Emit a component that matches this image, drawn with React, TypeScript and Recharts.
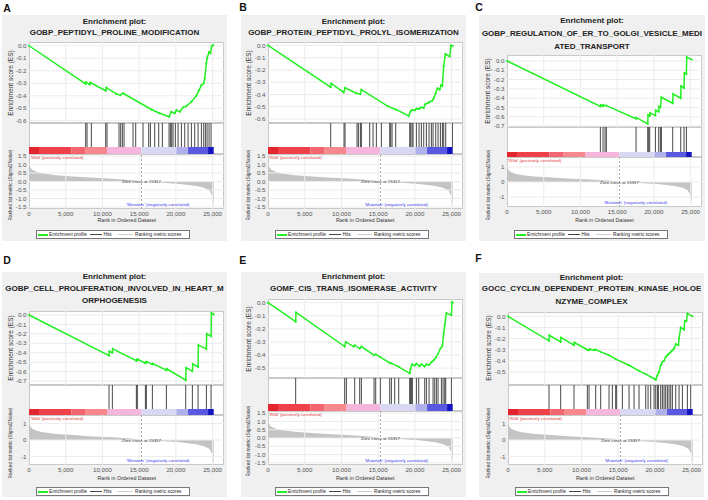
import React from "react";
import { LineChart, Line, AreaChart, Area, XAxis, YAxis, ReferenceLine, ReferenceArea, ReferenceDot } from "recharts";

const FONT = "'Liberation Sans', Arial, Helvetica, sans-serif";
const X_MAX = 26550;
const PLOT_W = 195;
const YW = 22;
const XH = 12;
const ZERO_CROSS = 15317;
const GREEN = "#22f022";

const xTicks = [0, 5000, 10000, 15000, 20000, 25000];

// ranked list metric (shared by all six plots)
const metricRanks = [0, 150, 400, 1000, 1900, 3700, 6000, 8700, 11400, 14200, 15317, 17800, 20500, 22800, 23900, 24600, 24950, 25100, 25150];
const metricValues = [1.1, 0.85, 0.7, 0.57, 0.47, 0.37, 0.3, 0.22, 0.16, 0.08, 0, -0.06, -0.14, -0.26, -0.39, -0.55, -0.85, -1.3, -1.6];

// heat bar under the hits
const barEdges = [0, 1362, 5766, 7718, 10624, 15300, 20067, 21656, 24380, 25150];
const barColors = ["#e3262e", "#ee4149", "#f36670", "#f7898c", "#f4b6da", "#d8d8f2", "#b0b0ec", "#5858e0", "#1414c0"];

type Pt = [number, number];

const esA: Pt[] = [[0, 0], [7718, -0.305], [7763, -0.29], [8263, -0.31], [8354, -0.295], [10442, -0.36], [10533, -0.335], [11895, -0.385], [12440, -0.395], [12803, -0.38], [16662, -0.51], [17797, -0.54], [19068, -0.568], [19386, -0.528], [19840, -0.541], [20067, -0.515], [20521, -0.528], [20975, -0.493], [21429, -0.483], [22110, -0.448], [22791, -0.4], [23154, -0.355], [23472, -0.315], [23790, -0.3], [23926, -0.26], [24153, -0.14], [24244, -0.1], [24516, -0.05], [24698, -0.06], [24879, 0.0], [25100, 0.005]];
const hitsA = [7718, 7900, 8490, 10442, 10624, 12258, 12485, 12712, 12939, 14165, 14528, 15527, 16299, 16526, 17116, 17661, 18160, 19068, 19250, 19431, 19613, 19931, 20294, 20748, 21202, 21656, 22110, 22564, 23018, 23472, 23790, 24017, 24244, 24516, 24788];

const esB: Pt[] = [[0, 0], [8535, -0.34], [8626, -0.31], [10306, -0.383], [10487, -0.345], [12031, -0.39], [12576, -0.397], [12712, -0.36], [16344, -0.497], [17479, -0.524], [19159, -0.575], [19386, -0.54], [19613, -0.525], [19976, -0.53], [20203, -0.515], [20566, -0.52], [20793, -0.505], [21202, -0.51], [21383, -0.48], [21792, -0.47], [22019, -0.46], [22382, -0.45], [22564, -0.43], [22836, -0.39], [23063, -0.35], [23381, -0.36], [23563, -0.325], [23744, -0.33], [23926, -0.17], [24153, -0.07], [24743, -0.09], [24925, 0.0], [25150, -0.005]];
const hitsB = [8535, 10351, 10487, 12122, 12303, 12576, 12712, 13847, 14301, 14755, 15436, 16571, 16707, 16889, 17388, 19295, 19431, 19613, 19749, 20203, 20566, 20884, 21202, 21565, 21928, 22246, 22473, 22836, 23154, 23472, 23744, 23926, 24198, 25106];

const esC: Pt[] = [[0, 0], [12712, -0.49], [12757, -0.475], [13075, -0.485], [13120, -0.475], [13529, -0.48], [17570, -0.62], [17615, -0.61], [19159, -0.675], [19204, -0.58], [19431, -0.59], [19477, -0.56], [20203, -0.585], [20248, -0.53], [20657, -0.545], [20702, -0.49], [20884, -0.5], [21020, -0.39], [22564, -0.455], [22610, -0.355], [23653, -0.4], [23699, -0.27], [24107, -0.29], [24153, -0.13], [24425, -0.14], [24471, 0.04], [25150, 0.015]];
const hitsC = [12712, 13075, 13348, 13529, 17570, 19159, 19295, 19431, 20203, 20657, 20884, 21020, 22564, 23653, 24107, 24425];

const esD: Pt[] = [[0, 0], [10896, -0.43], [10941, -0.385], [11350, -0.4], [11395, -0.36], [14619, -0.485], [14664, -0.475], [14755, -0.48], [14800, -0.47], [15845, -0.51], [15890, -0.5], [15981, -0.505], [16026, -0.495], [16798, -0.525], [16843, -0.515], [18705, -0.585], [18750, -0.57], [21338, -0.69], [21383, -0.56], [22246, -0.595], [22291, -0.52], [23018, -0.55], [23063, -0.32], [24153, -0.36], [24198, -0.2], [24788, -0.225], [24834, 0.02], [25150, 0.005]];
const hitsD = [10896, 11350, 14619, 14755, 15845, 15981, 16798, 18705, 21338, 22246, 23018, 24153, 24788];

const esE: Pt[] = [[0, 0], [3768, -0.145], [3814, -0.075], [10442, -0.335], [10578, -0.3], [11668, -0.335], [11804, -0.325], [12485, -0.35], [12712, -0.335], [14437, -0.4], [14664, -0.395], [15300, -0.415], [16571, -0.46], [16798, -0.462], [17797, -0.49], [19295, -0.54], [19386, -0.51], [19613, -0.47], [19976, -0.48], [20203, -0.465], [20657, -0.485], [20884, -0.47], [21338, -0.487], [21565, -0.47], [21928, -0.475], [22246, -0.455], [22564, -0.44], [22836, -0.42], [23154, -0.39], [23472, -0.35], [23744, -0.33], [23926, -0.23], [24062, -0.17], [24289, -0.08], [24970, -0.095], [25061, 0.005], [25150, 0.0]];
const hitsE = [3768, 10442, 10669, 11804, 12485, 12712, 14437, 14664, 15300, 16571, 16798, 17252, 17797, 19295, 19386, 19522, 19658, 20203, 20521, 21338, 21565, 21928, 22473, 22700, 22927, 23154, 23608, 23835, 24062, 24198, 24970];

const esF: Pt[] = [[0, 0], [5584, -0.22], [5630, -0.17], [7173, -0.23], [7219, -0.19], [8989, -0.26], [9035, -0.235], [10805, -0.3], [11032, -0.305], [11123, -0.295], [11713, -0.305], [11849, -0.298], [12621, -0.32], [13756, -0.35], [14664, -0.385], [16480, -0.44], [17842, -0.49], [18750, -0.52], [19431, -0.545], [19885, -0.56], [20112, -0.57], [20339, -0.53], [20566, -0.5], [20793, -0.44], [21020, -0.41], [21247, -0.4], [21474, -0.365], [21701, -0.35], [21928, -0.335], [22155, -0.32], [22382, -0.305], [22610, -0.29], [22836, -0.25], [23200, -0.26], [23290, -0.2], [23517, -0.1], [23971, -0.12], [24062, -0.04], [24289, -0.045], [24425, 0.024], [25106, 0.0]];
const hitsF = [5584, 7173, 8989, 10805, 11032, 11940, 12621, 13756, 14210, 14664, 14800, 15572, 16480, 17161, 17842, 18750, 19068, 19431, 19885, 20112, 20339, 20475, 20793, 21020, 21247, 21474, 21701, 21928, 22155, 22382, 22836, 23290, 23744, 24425, 24879];

const esTicks5 = [0, -0.1, -0.2, -0.3, -0.4, -0.5];
const esTicks6 = [0, -0.1, -0.2, -0.3, -0.4, -0.5, -0.6];
const esTicks7 = [0, -0.1, -0.2, -0.3, -0.4, -0.5, -0.6, -0.7];
const rankTicksHalf = [1.5, 1, 0.5, 0, -0.5, -1, -1.5];
const rankTicksInt = [1, 0, -1];

interface Spec {
  letter: string; lx: number; ly: number;
  bx: number; by: number; bw: number; bh: number;
  px: number;
  title: string[]; ty: number[];
  esTop: number; esBot: number; esDom: [number, number]; esTicks: number[];
  cbTop: number; cbBot: number;
  rTop: number; rBot: number; rDom: [number, number]; rTicks: number[]; rDec: number;
  xly: number; legY: number;
  es: Pt[]; hits: number[];
}

const panels: Spec[] = [
  { letter: "A", lx: 3.3, ly: 8.3, bx: 2, by: 15, bw: 225, bh: 226, px: 29.3,
    title: ["Enrichment plot:", "GOBP_PEPTIDYL_PROLINE_MODIFICATION"], ty: [21.7, 33],
    esTop: 42, esBot: 123, esDom: [-0.618, 0.03], esTicks: esTicks6,
    cbTop: 147, cbBot: 154, rTop: 154, rBot: 209, rDom: [-1.62, 1.62], rTicks: rankTicksHalf, rDec: 1,
    xly: 220, legY: 230, es: esA, hits: hitsA },
  { letter: "B", lx: 239.3, ly: 7.3, bx: 241, by: 15, bw: 225, bh: 226, px: 267.7,
    title: ["Enrichment plot:", "GOBP_PROTEIN_PEPTIDYL_PROLYL_ISOMERIZATION"], ty: [21.7, 33],
    esTop: 42.3, esBot: 123, esDom: [-0.63, 0.028], esTicks: esTicks6,
    cbTop: 147, cbBot: 154, rTop: 154, rBot: 209, rDom: [-1.62, 1.62], rTicks: rankTicksHalf, rDec: 1,
    xly: 220, legY: 230, es: esB, hits: hitsB },
  { letter: "C", lx: 475.3, ly: 7, bx: 479, by: 15, bw: 226, bh: 226, px: 507,
    title: ["Enrichment plot:", "GOBP_REGULATION_OF_ER_TO_GOLGI_VESICLE_MEDI", "ATED_TRANSPORT"], ty: [21, 34, 46.7],
    esTop: 55, esBot: 127, esDom: [-0.71, 0.064], esTicks: esTicks7,
    cbTop: 152, cbBot: 157, rTop: 157, rBot: 207, rDom: [-1.67, 1.67], rTicks: rankTicksInt, rDec: 0,
    xly: 220, legY: 230, es: esC, hits: hitsC },
  { letter: "D", lx: 3.3, ly: 260, bx: 2, by: 272, bw: 225, bh: 225, px: 29.3,
    title: ["Enrichment plot:", "GOBP_CELL_PROLIFERATION_INVOLVED_IN_HEART_M", "ORPHOGENESIS"], ty: [277, 289.3, 301],
    esTop: 311, esBot: 385, esDom: [-0.742, 0.042], esTicks: esTicks7,
    cbTop: 409, cbBot: 415, rTop: 415, rBot: 465, rDom: [-1.52, 1.52], rTicks: rankTicksInt, rDec: 0,
    xly: 478, legY: 487, es: esD, hits: hitsD },
  { letter: "E", lx: 239.3, ly: 260, bx: 241, by: 272, bw: 225, bh: 225, px: 267.7,
    title: ["Enrichment plot:", "GOMF_CIS_TRANS_ISOMERASE_ACTIVITY"], ty: [277, 289.3],
    esTop: 299, esBot: 378, esDom: [-0.575, 0.028], esTicks: esTicks5,
    cbTop: 404, cbBot: 411, rTop: 411, rBot: 465, rDom: [-1.63, 1.63], rTicks: rankTicksHalf, rDec: 1,
    xly: 478, legY: 487, es: esE, hits: hitsE },
  { letter: "F", lx: 475.3, ly: 258.3, bx: 479, by: 273, bw: 225, bh: 224, px: 507.7,
    title: ["Enrichment plot:", "GOCC_CYCLIN_DEPENDENT_PROTEIN_KINASE_HOLOE", "NZYME_COMPLEX"], ty: [277.7, 289.3, 301.7],
    esTop: 311.7, esBot: 385, esDom: [-0.62, 0.039], esTicks: esTicks5,
    cbTop: 409, cbBot: 415, rTop: 415, rBot: 465, rDom: [-1.53, 1.53], rTicks: rankTicksInt, rDec: 0,
    xly: 478, legY: 487, es: esF, hits: hitsF },
];

const fmtRank = (v: number) => v.toLocaleString("en-US");
const zero = { top: 0, right: 0, bottom: 0, left: 0 };
const tickStyle = { fontSize: 6.2, fill: "#555", fontFamily: FONT };

function abs(l: number, t: number, w?: number, h?: number): React.CSSProperties {
  return { position: "absolute", left: l, top: t, width: w, height: h };
}
const box: React.CSSProperties = { background: "#fff", border: "1px solid #c9c9c9", boxSizing: "border-box" };

function Panel({ s }: { s: Spec }) {
  const esData = s.es.map(([x, y]) => ({ x, y }));
  const hitData = s.hits.map(x => ({ x, y: 0.5 }));
  const barData = barEdges.map(x => ({ x, y: 0.5 }));
  const metricData = metricRanks.map((x, i) => ({ x, y: metricValues[i] }));
  const esMid = (s.esTop + s.esBot) / 2;
  const rMid = (s.rTop + s.rBot) / 2 + 3;
  const legX = Math.round(s.px + 7);

  return (
    <>
      <div style={{ ...abs(s.bx, s.by, s.bw, s.bh), background: "#f0f0f0" }} />
      <div style={{ ...abs(s.lx, s.ly - 6), fontSize: 10.5, fontWeight: 700, lineHeight: "12px", color: "#111" }}>{s.letter}</div>
      {s.title.map((t, i) => (
        <div key={i} style={{ ...abs(s.bx + s.bw / 2 - 150, s.ty[i] - 5, 300), textAlign: "center", fontSize: 8, fontWeight: 700, lineHeight: "10px", color: "#222", whiteSpace: "nowrap" }}>{t}</div>
      ))}

      <div style={{ ...abs(s.px, s.esTop, PLOT_W, s.esBot - s.esTop), ...box }} />
      <div style={{ ...abs(s.px, s.esBot, PLOT_W, s.cbBot - s.esBot), ...box }} />
      <div style={{ ...abs(s.px, s.rTop, PLOT_W, s.rBot - s.rTop), ...box }} />

      {/* enrichment score */}
      <div style={abs(s.px - YW, s.esTop)}>
        <LineChart width={PLOT_W + YW} height={s.esBot - s.esTop} data={esData} margin={zero}>
          <XAxis type="number" dataKey="x" domain={[0, X_MAX]} hide />
          <YAxis type="number" domain={s.esDom} ticks={s.esTicks} interval={0} width={YW} axisLine={false} tickLine={false} tickSize={0} tickMargin={2.5} tick={tickStyle} tickFormatter={(v: number) => v.toFixed(1)} allowDataOverflow />
          {xTicks.slice(1).map(t => <ReferenceLine key={"gx" + t} x={t} stroke="#ececec" />)}
          {s.esTicks.map(t => <ReferenceLine key={"gy" + t} y={t} stroke="#ececec" />)}
          <Line type="linear" dataKey="y" stroke={GREEN} strokeWidth={1.5} dot={{ r: 0.8, fill: GREEN, stroke: GREEN, strokeWidth: 0.5 }} isAnimationActive={false} />
        </LineChart>
      </div>

      {/* hits */}
      <div style={abs(s.px, s.esBot)}>
        <LineChart width={PLOT_W} height={s.cbTop - s.esBot} data={hitData} margin={zero}>
          <XAxis type="number" dataKey="x" domain={[0, X_MAX]} hide />
          <YAxis type="number" domain={[0, 1]} hide />
          {s.hits.map((h, i) => <ReferenceLine key={i} x={h} stroke="#333" strokeWidth={0.9} />)}
          <Line type="linear" dataKey="y" stroke="none" dot={false} isAnimationActive={false} />
        </LineChart>
      </div>

      {/* heat bar */}
      <div style={abs(s.px, s.cbTop)}>
        <LineChart width={PLOT_W} height={s.cbBot - s.cbTop} data={barData} margin={zero}>
          <XAxis type="number" dataKey="x" domain={[0, X_MAX]} hide />
          <YAxis type="number" domain={[0, 1]} hide />
          {barColors.map((c, i) => <ReferenceArea key={i} x1={barEdges[i]} x2={barEdges[i + 1]} y1={0} y2={1} fill={c} fillOpacity={1} stroke="none" />)}
          <Line type="linear" dataKey="y" stroke="none" dot={false} isAnimationActive={false} />
        </LineChart>
      </div>

      {/* ranked list metric */}
      <div style={abs(s.px - YW, s.rTop)}>
        <AreaChart width={PLOT_W + YW} height={s.rBot - s.rTop + XH} data={metricData} margin={zero}>
          <XAxis type="number" dataKey="x" domain={[0, X_MAX]} ticks={xTicks} interval={0} height={XH} axisLine={false} tickLine={false} tickSize={0} tickMargin={2.5} tick={tickStyle} tickFormatter={fmtRank} />
          <YAxis type="number" domain={s.rDom} ticks={s.rTicks} interval={0} width={YW} axisLine={false} tickLine={false} tickSize={0} tickMargin={2.5} tick={tickStyle} tickFormatter={(v: number) => v.toFixed(s.rDec)} allowDataOverflow />
          {xTicks.slice(1).map(t => <ReferenceLine key={"gx" + t} x={t} stroke="#ececec" />)}
          {s.rTicks.map(t => <ReferenceLine key={"gy" + t} y={t} stroke="#ececec" />)}
          <Area type="linear" dataKey="y" stroke="none" fill="#c4c4c4" fillOpacity={1} baseValue={0} isAnimationActive={false} />
          <ReferenceLine x={ZERO_CROSS} stroke="#aaa" strokeDasharray="2 2" />
          <ReferenceDot x={ZERO_CROSS} y={0} r={0.1} fill="none" stroke="none" label={{ value: "Zero cross at 15317", position: "center", fontSize: 4.4, fill: "#333", fontFamily: FONT }} />
        </AreaChart>
      </div>

      <div style={{ ...abs(s.px + 1, s.rTop + 0.5), fontSize: 4.4, lineHeight: "5px", color: "#e03a3a", whiteSpace: "nowrap" }}>'Wild' (positively correlated)</div>
      <div style={{ ...abs(s.px + 97, s.rBot - 7.2), fontSize: 4.4, lineHeight: "5px", color: "#3a3aee", whiteSpace: "nowrap" }}>'Mutation' (negatively correlated)</div>

      <div style={{ ...abs(s.px - 118.8, esMid - 5, 200, 10), textAlign: "center", fontSize: 6.5, lineHeight: "10px", color: "#333", transform: "rotate(-90deg)", whiteSpace: "nowrap" }}>Enrichment score (ES)</div>
      <div style={{ ...abs(s.px - 118.5, rMid - 5, 200, 10), textAlign: "center", fontSize: 4.8, lineHeight: "10px", color: "#333", transform: "rotate(-90deg)", whiteSpace: "nowrap" }}>Ranked list metric (Signal2Noise)</div>
      <div style={{ ...abs(s.px, s.xly - 4, PLOT_W, 8), textAlign: "center", fontSize: 5.3, lineHeight: "8px", color: "#333" }}>Rank in Ordered Dataset</div>

      <div style={{ ...abs(legX, s.legY, 154, 9), ...box, border: "1px solid #777", fontSize: 4.7, lineHeight: "7px", color: "#222" }}>
        <div style={{ ...abs(1, 3, 10, 2), background: GREEN }} />
        <div style={{ ...abs(12, 0), whiteSpace: "nowrap" }}>Enrichment profile</div>
        <div style={{ ...abs(53, 3, 12, 1), background: "#444" }} />
        <div style={{ ...abs(66.5, 0), whiteSpace: "nowrap" }}>Hits</div>
        <div style={{ ...abs(81, 3, 15, 1), background: "#cfcfcf" }} />
        <div style={{ ...abs(98, 0), whiteSpace: "nowrap" }}>Ranking metric scores</div>
      </div>
    </>
  );
}

export default function App() {
  return (
    <div style={{ position: "absolute", left: 0, top: 0, width: 708, height: 500, background: "#fff", fontFamily: FONT, overflow: "hidden" }}>
      <style>{`.recharts-surface{overflow:visible}`}</style>
      {panels.map(p => <Panel key={p.letter} s={p} />)}
    </div>
  );
}
